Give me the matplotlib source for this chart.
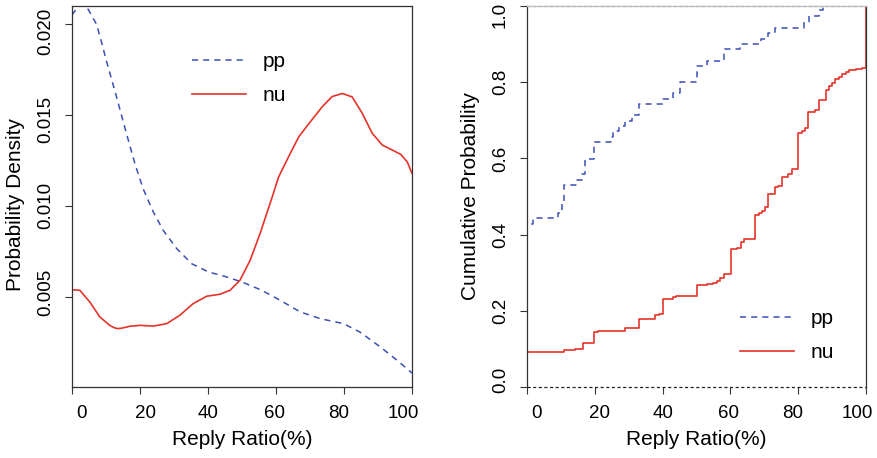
import matplotlib
matplotlib.use("Agg")
import matplotlib.pyplot as plt

plt.rcParams['font.family'] = ['Liberation Sans', 'DejaVu Sans']

# density curves
dens_x_pp = [0, 1.5, 2.8, 4.5, 6.0, 7.2, 8.7, 10.1, 13.1, 16.0, 18.5, 20.9, 23.9,
             26.8, 30.8, 35.2, 40.1, 45.5, 49.9, 55.8, 61.2, 67.1, 73.0, 79.9,
             84.7, 90.7, 95.6, 100]
dens_pp = [0.0205, 0.0209, 0.0211, 0.0209, 0.0204, 0.0200, 0.0190, 0.0180,
           0.0160, 0.0140, 0.01233, 0.01096, 0.00968, 0.00867, 0.00766, 0.00683,
           0.00638, 0.0061, 0.00583, 0.00537, 0.00482, 0.00418, 0.00381, 0.00353,
           0.00307, 0.00225, 0.00152, 0.00082]

dens_x_nu = [0, 2.3, 5.2, 8.2, 11.1, 12.5, 13.6, 15.0, 17.0, 20.0, 23.9, 27.8,
             31.7, 35.6, 39.6, 43.5, 46.5, 49.4, 52.4, 55.3, 58.9, 60.8, 63.7,
             66.7, 69.7, 73.6, 76.5, 79.5, 82.4, 85.4, 88.3, 91.3, 94.2, 96.7,
             98.6, 100]
dens_nu = [0.0054, 0.00537, 0.00473, 0.0039, 0.00344, 0.00330, 0.00326, 0.00330,
           0.00339, 0.00344, 0.0034, 0.00353, 0.00399, 0.00463, 0.00504, 0.00515,
           0.00537, 0.00592, 0.00702, 0.00848, 0.01051, 0.01161, 0.01271, 0.01381,
           0.01454, 0.01546, 0.01602, 0.01619, 0.0160, 0.01509, 0.0140, 0.01335,
           0.01308, 0.01284, 0.01243, 0.0118]

# empirical CDF jumps: position and value after the jump
cdf_x_pp = [0, 1.9, 9.2, 10.2, 11.0, 14.7, 16.1, 17.0, 19.9, 24.7, 25.3, 27.0,
            28.9, 30.9, 32.9, 40.1, 43.2, 45.0, 50.0, 53.0, 58.0, 62.8, 69.0,
            71.0, 73.1, 81.8, 83.2, 86.2, 87.2]
cdf_pp = [0.428, 0.443, 0.458, 0.487, 0.529, 0.544, 0.559, 0.599, 0.642, 0.657,
          0.672, 0.685, 0.699, 0.714, 0.743, 0.755, 0.771, 0.800, 0.843, 0.856,
          0.886, 0.901, 0.913, 0.928, 0.943, 0.957, 0.974, 0.989, 1.0]

cdf_x_nu = [0, 11.0, 14.2, 16.6, 19.9, 20.8, 28.9, 31.0, 33.0, 37.9, 39.0, 40.0,
            43.0, 44.0, 50.0, 53.0, 55.0, 56.0, 57.0, 58.1, 60.1, 62.0, 63.1,
            64.1, 67.2, 68.3, 69.3, 70.3, 71.2, 73.2, 74.1, 75.1, 77.1, 78.1,
            80.0, 81.0, 82.0, 83.0, 85.0, 86.1, 88.1, 89.1, 90.1, 91.0, 92.0,
            93.0, 94.0, 95.0, 97.0, 98.7, 100.0]
cdf_nu = [0.093, 0.097, 0.099, 0.115, 0.145, 0.148, 0.154, 0.156, 0.178, 0.189,
          0.192, 0.230, 0.235, 0.238, 0.268, 0.270, 0.273, 0.277, 0.285, 0.297,
          0.361, 0.366, 0.381, 0.389, 0.451, 0.456, 0.461, 0.473, 0.507, 0.524,
          0.528, 0.552, 0.559, 0.573, 0.666, 0.673, 0.681, 0.723, 0.727, 0.753,
          0.780, 0.790, 0.799, 0.808, 0.813, 0.822, 0.828, 0.832, 0.835, 0.837,
          1.0]

x_ticks = [0, 20, 40, 60, 80, 100]
dens_ticks = [0.005, 0.010, 0.015, 0.020]
dens_tick_labels = ['0.005', '0.010', '0.015', '0.020']
cdf_ticks = [0.0, 0.2, 0.4, 0.6, 0.8, 1.0]
cdf_tick_labels = ['0.0', '0.2', '0.4', '0.6', '0.8', '1.0']

BLUE = '#3b4fb5'
RED = '#e5332a'
W, H = 877, 458


def setup_axis(axis, ticks, label_pos, labels, **kw):
    # marks at the real positions, labels slightly pulled inwards like the original
    axis.remove_overlapping_locs = False
    axis.set_ticks(ticks, minor=True)
    axis.set_ticks(label_pos)
    axis.set_ticklabels(labels, **kw)


fig = plt.figure(figsize=(W / 100, H / 100), dpi=100)
ax1 = fig.add_axes([72 / W, 1 - 387 / H, 340 / W, 381 / H])
ax2 = fig.add_axes([527 / W, 1 - 387 / H, 339 / W, 381 / H])

x_label_pos = [2.9, 21.5, 40.1, 59.5, 78.4, 97.3]

# left: density
ax1.plot(dens_x_pp, dens_pp, color=BLUE, lw=1.1, dashes=(4, 3.3), label='pp')
ax1.plot(dens_x_nu, dens_nu, color=RED, lw=1.2, label='nu')
ax1.set_xlim(0, 100)
ax1.set_ylim(0.00005, 0.021)
setup_axis(ax1.xaxis, x_ticks, x_label_pos, [str(t) for t in x_ticks])
setup_axis(ax1.yaxis, dens_ticks, [0.00527, 0.01005, 0.01478, 0.01958],
           dens_tick_labels, rotation=90, va='center')
ax1.set_ylabel('Probability Density', fontsize=15)
ax1.yaxis.set_label_coords(-0.138, 0.478)
ax1.xaxis.set_label_coords(0.478, -0.113)

# right: ECDF
ax2.axhline(1.0, color='#888888', lw=0.9, dashes=(2.5, 2), clip_on=False)
ax2.axhline(0.0, color='#222222', lw=0.9, dashes=(2.5, 2), clip_on=False)
ax2.step([0] + cdf_x_pp + [100], [0] + cdf_pp + [cdf_pp[-1]], where='post',
         color=BLUE, lw=1.1, dashes=(4, 3.3), label='pp')
ax2.step([0] + cdf_x_nu, [0] + cdf_nu, where='post', color=RED, lw=1.2, label='nu')
ax2.set_xlim(0, 100)
ax2.set_ylim(0, 1)
setup_axis(ax2.xaxis, x_ticks, x_label_pos, [str(t) for t in x_ticks])
setup_axis(ax2.yaxis, cdf_ticks, [0.018, 0.2, 0.4, 0.6, 0.8, 0.976],
           cdf_tick_labels, rotation=90, va='center')
ax2.set_ylabel('Cumulative Probability', fontsize=15)
ax2.yaxis.set_label_coords(-0.139, 0.5)
ax2.xaxis.set_label_coords(0.48, -0.113)

for ax in (ax1, ax2):
    ax.set_xlabel('Reply Ratio(%)', fontsize=15)
    ax.tick_params(which='major', length=0, pad=13, labelsize=13.5)
    ax.tick_params(which='minor', length=5, width=0.8, color='#333333')
    for s in ax.spines.values():
        s.set_color('#333333')
        s.set_linewidth(0.9)

ax2.spines['top'].set_color('#bbbbbb')
ax2.spines['bottom'].set_visible(False)

ax1.legend(loc='upper left', bbox_to_anchor=(192 / W, 1 - 52 / H),
           bbox_transform=fig.transFigure, frameon=False, fontsize=15,
           handlelength=2.6, handletextpad=0.8, borderpad=0, borderaxespad=0,
           labelspacing=0.72)
ax2.legend(loc='upper left', bbox_to_anchor=(740 / W, 1 - 309 / H),
           bbox_transform=fig.transFigure, frameon=False, fontsize=15,
           handlelength=2.6, handletextpad=0.8, borderpad=0, borderaxespad=0,
           labelspacing=0.72)

fig.savefig('out.png', dpi=100)
